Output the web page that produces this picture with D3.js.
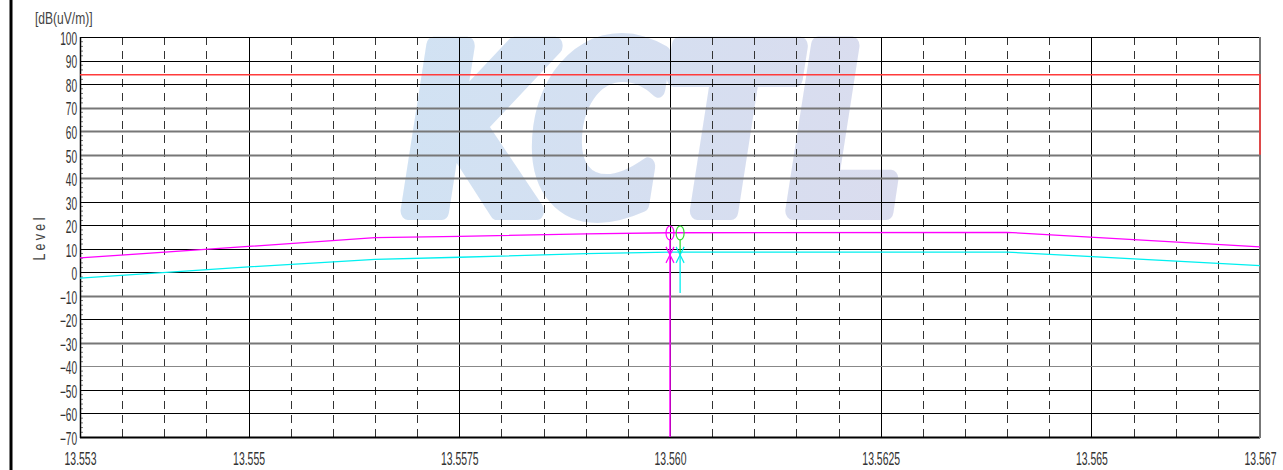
<!DOCTYPE html>
<html><head><meta charset="utf-8">
<script src="https://cdn.jsdelivr.net/npm/d3@7"></script>
<style>
html,body{margin:0;padding:0;background:#fff;}
svg{display:block;}
text{font-family:"Liberation Sans",Arial,sans-serif;}
</style></head>
<body>
<svg id="chart" width="1283" height="470"></svg>
<script>
// ---- data ----
const freqDomain = [13.553, 13.567];
const levelDomain = [-70, 100];
const xTickValues = [13.553, 13.555, 13.5575, 13.560, 13.5625, 13.565, 13.567];
const xTickLabels = ["13.553", "13.555", "13.5575", "13.560", "13.5625", "13.565", "13.567"];
const yTickValues = [100, 90, 80, 70, 60, 50, 40, 30, 20, 10, 0, -10, -20, -30, -40, -50, -60, -70];
const limitFreq = [13.553, 13.567, 13.567];
const limitLevel = [84, 84, 50];
const peakFreq = [13.553, 13.555, 13.5565, 13.5575, 13.559, 13.560, 13.564, 13.567];
const peakLevel = [6.1, 11.0, 14.7, 15.3, 16.3, 16.8, 17.0, 10.8];
const avgFreq = [13.553, 13.555, 13.5565, 13.5575, 13.559, 13.560, 13.564, 13.567];
const avgLevel = [-2.5, 2.3, 5.5, 6.4, 7.9, 8.6, 8.6, 2.8];
const markerFreq = [13.560, 13.56012];
const markerPeak = [16.7, 16.7];
const markerAvg = [7.4, 7.4];
const markerAvgLineEnd = -8.8;
const yTitle = "[dB(uV/m)]";
const yLabel = "L e v e l";
const watermark = "KCTL";

// ---- layout ----
const svg = d3.select("#chart");
const L = 80, R = 1260, T = 37, B = 437;
const x = d3.scaleLinear().domain(freqDomain).range([L, R]);
const y = d3.scaleLinear().domain(levelDomain).range([B, T]);
const narrow = 0.58;

svg.append("rect").attr("width", 1283).attr("height", 470).attr("fill", "#fff");

// watermark
const defs = svg.append("defs");
const grad = defs.append("linearGradient").attr("id", "wm").attr("x1", "0").attr("x2", "1").attr("y1", "0").attr("y2", "0");
grad.append("stop").attr("offset", "0").attr("stop-color", "#d1e2f3");
grad.append("stop").attr("offset", "1").attr("stop-color", "#dadcee");
svg.append("text")
  .attr("x", 404).attr("y", 211)
  .attr("textLength", 500).attr("lengthAdjust", "spacingAndGlyphs")
  .style("font-family", "'DejaVu Sans', sans-serif")
  .style("font-weight", "bold").style("font-style", "oblique")
  .style("font-size", "226px")
  .attr("fill", "url(#wm)")
  .attr("stroke", "url(#wm)").attr("stroke-width", 18).attr("stroke-linejoin", "round")
  .text(watermark);

// vertical gridlines
const minorX = d3.range(1, 28).map(i => freqDomain[0] + i * 0.0005);
const isMajorX = v => Math.abs(Math.round(v / 0.0025) * 0.0025 - v) < 1e-7;
svg.append("g").selectAll("line").data(minorX).join("line")
  .attr("x1", d => Math.round(x(d)) + 0.5).attr("x2", d => Math.round(x(d)) + 0.5)
  .attr("y1", T).attr("y2", B)
  .attr("stroke", d => isMajorX(d) ? "#000" : "#333")
  .attr("stroke-width", 1)
  .attr("stroke-dasharray", d => isMajorX(d) ? null : "8,6");

// horizontal gridlines
const grayThick = [70, 60, 50, 40, -10, -30];
const grayThin = [-40];
svg.append("g").selectAll("line").data(yTickValues.filter(v => v !== -70)).join("line")
  .attr("x1", L).attr("x2", R)
  .attr("y1", d => Math.round(y(d)) + 0.5).attr("y2", d => Math.round(y(d)) + 0.5)
  .attr("stroke", d => grayThick.includes(d) ? "#777" : grayThin.includes(d) ? "#888" : "#000")
  .attr("stroke-width", d => grayThick.includes(d) ? 2 : 1);

// y minor ticks
svg.append("g").selectAll("line").data(d3.range(-68, 100, 2).filter(v => v % 10 !== 0)).join("line")
  .attr("x1", L).attr("x2", L + 3)
  .attr("y1", d => y(d)).attr("y2", d => y(d))
  .attr("stroke", "#777").attr("stroke-width", 1);

// frame
svg.append("line").attr("x1", L + 0.5).attr("x2", L + 0.5).attr("y1", T).attr("y2", B + 1).attr("stroke", "#000").attr("stroke-width", 1.5);
svg.append("line").attr("x1", L).attr("x2", R).attr("y1", B + 0.5).attr("y2", B + 0.5).attr("stroke", "#000").attr("stroke-width", 2);
svg.append("line").attr("x1", R).attr("x2", R).attr("y1", T).attr("y2", B + 1).attr("stroke", "#777").attr("stroke-width", 2);

// left window border
svg.append("line").attr("x1", 11).attr("x2", 11).attr("y1", 0).attr("y2", 470).attr("stroke", "#000").attr("stroke-width", 3);

// axis labels
const xAxis = d3.axisBottom(x).tickValues(xTickValues).tickFormat((d, i) => xTickLabels[i]).tickSize(0).tickPadding(15);
const gx = svg.append("g").attr("transform", `translate(0,${B})`).call(xAxis);
gx.select(".domain").remove();
gx.selectAll("text").attr("fill", "#333").attr("transform", `scale(${narrow},1)`)
  .style("font-size", "18px").style("font-family", "'Liberation Sans',sans-serif");

const yAxis = d3.axisLeft(y).tickValues(yTickValues).tickFormat(d3.format("d")).tickSize(0).tickPadding(5);
const gy = svg.append("g").attr("transform", `translate(${L},0)`).call(yAxis);
gy.select(".domain").remove();
gy.selectAll("text").attr("fill", "#333").attr("dy", "0.42em").attr("transform", `scale(${narrow},1)`)
  .style("font-size", "17.5px").style("font-family", "'Liberation Sans',sans-serif");

svg.append("text").attr("transform", "translate(35,24) scale(0.73,1)").attr("fill", "#444")
  .style("font-size", "16.5px").text(yTitle);
svg.append("text").attr("transform", "translate(45,239) rotate(-90) scale(0.75,1)").attr("text-anchor", "middle")
  .attr("fill", "#444").style("font-size", "16.5px").text(yLabel);

// limit line
const line = d3.line().x(d => x(d[0])).y(d => y(d[1]));
svg.append("path").datum(limitFreq.map((f, i) => [f, limitLevel[i]]))
  .attr("d", line).attr("fill", "none").attr("stroke", "#ff3b3b").attr("stroke-width", 1.5);

// traces
svg.append("path").datum(avgFreq.map((f, i) => [f, avgLevel[i]]))
  .attr("d", line).attr("fill", "none").attr("stroke", "#00f0f0").attr("stroke-width", 1.3);
svg.append("path").datum(peakFreq.map((f, i) => [f, peakLevel[i]]))
  .attr("d", line).attr("fill", "none").attr("stroke", "#ff00ff").attr("stroke-width", 1.3);

// markers
const mx0 = x(markerFreq[0]), mx1 = x(markerFreq[1]);
svg.append("line").attr("x1", mx0).attr("x2", mx0).attr("y1", y(markerPeak[0]) + 6).attr("y2", B)
  .attr("stroke", "#ff00ff").attr("stroke-width", 1.5);
svg.append("ellipse").attr("cx", mx0).attr("cy", y(markerPeak[0])).attr("rx", 4).attr("ry", 7)
  .attr("fill", "none").attr("stroke", "#ff00ff").attr("stroke-width", 1.2);
const xMark = (cx, cy, col) => {
  svg.append("path").attr("d", `M${cx - 4},${cy - 8}L${cx + 4},${cy + 8}M${cx + 4},${cy - 8}L${cx - 4},${cy + 8}`)
    .attr("stroke", col).attr("stroke-width", 1.2).attr("fill", "none");
};
xMark(mx0, y(markerAvg[0]), "#ff00ff");
svg.append("line").attr("x1", mx1).attr("x2", mx1).attr("y1", y(markerPeak[1]) + 6).attr("y2", y(markerAvg[1]))
  .attr("stroke", "#33dd33").attr("stroke-width", 1.3);
svg.append("line").attr("x1", mx1).attr("x2", mx1).attr("y1", y(markerAvg[1])).attr("y2", y(markerAvgLineEnd))
  .attr("stroke", "#00eeee").attr("stroke-width", 1.3);
svg.append("ellipse").attr("cx", mx1).attr("cy", y(markerPeak[1])).attr("rx", 4).attr("ry", 7)
  .attr("fill", "none").attr("stroke", "#33dd33").attr("stroke-width", 1.2);
xMark(mx1, y(markerAvg[1]), "#00eeee");
</script>
</body></html>
